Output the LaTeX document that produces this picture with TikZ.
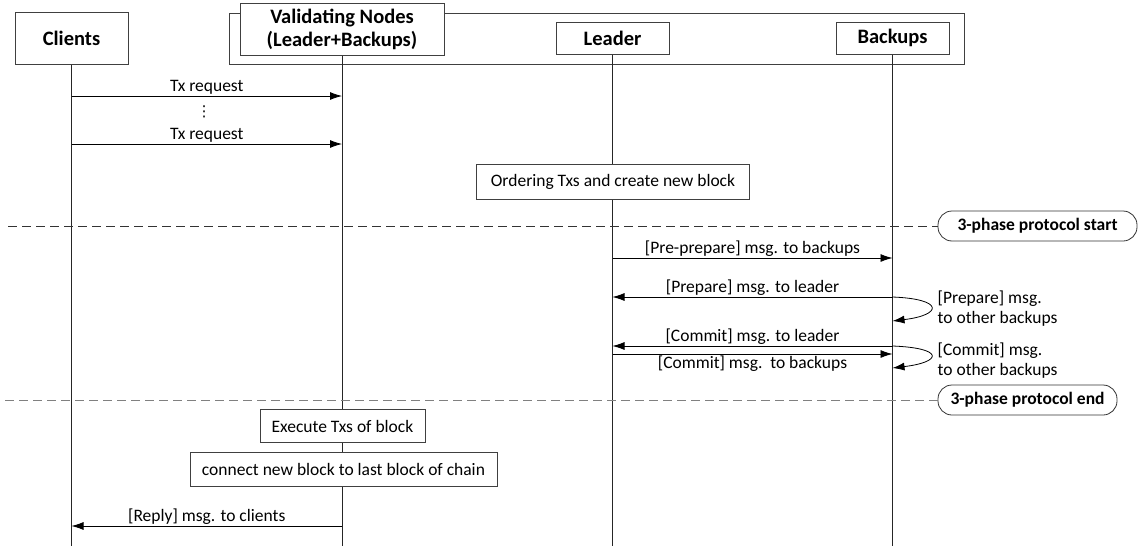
\documentclass[tikz,border=0pt]{standalone}
\usepackage{fontspec}
\setmainfont{Carlito}
\newfontfamily\symfont{DejaVu Sans}
\usetikzlibrary{arrows.meta,positioning,calc}

\newcommand{\msgfont}{\fontsize{17.5}{20}\selectfont}
\newcommand{\headfont}{\fontsize{20.5}{23}\selectfont\bfseries}

\begin{document}
\begin{tikzpicture}[x=1pt, y=-1pt]

\tikzset{
actor/.style={draw=black!75,line width=1pt,fill=white,font=\headfont,align=center,inner sep=0pt},
note/.style={draw=black!75,line width=0.8pt,fill=white,font=\msgfont,inner sep=0pt},
phasebox/.style={draw=black!80,line width=0.8pt,fill=white,rounded corners=14pt,font=\msgfont\bfseries,inner sep=0pt,minimum height=30pt},
life/.style={line width=0.8pt,draw=black!85},
msg/.style={-{Latex[length=12pt,width=8pt]},line width=0.8pt},
phase/.style={line width=1pt,dash pattern=on 9pt off 5pt},
lbl/.style={font=\msgfont,inner sep=1.5pt}
}

\useasboundingbox (0,0) rectangle (1145,546);

% Frame
\draw[draw=black!75,line width=1pt] (229,13) rectangle (964,64);

% Nodes
\node[actor,minimum width=113pt,minimum height=52pt] (clients) at (71.5,38) {Clients};
\node[actor,minimum width=204pt,minimum height=52pt] (vn) at (342,29) {Validating Nodes\\(Leader+Backups)};
\node[actor,minimum width=113pt,minimum height=32pt] (leader) at (612.5,38) {Leader};
\node[actor,minimum width=113pt,minimum height=32pt] (backups) at (892.5,38) {Backups};

% Rows
\coordinate (bottom) at (0,546);
\coordinate (rowtxa) at (0,96);
\coordinate (rowtxb) at (0,144);
\coordinate (rowpre) at (0,258);
\coordinate (rowprep) at (0,297);
\coordinate (rowprepend) at (0,321);
\coordinate (rowcomm) at (0,346);
\coordinate (rowcommb) at (0,354);
\coordinate (rowcommend) at (0,368);
\coordinate (rowreply) at (0,526);

% Lifelines
\draw[life] (clients.south) -- (clients.south |- bottom);
\draw[life] (vn.south) -- (vn.south |- bottom);
\draw[life] (leader.south) -- (leader.south |- bottom);
\draw[life] (backups.south) -- (backups.south |- bottom);

% Phase lines
\node[phasebox,minimum width=199pt] (pstart) at (1037.5,226) {3-phase protocol start};
\node[phasebox,minimum width=179pt] (pend) at (1027.5,400) {3-phase protocol end};
\coordinate (pstartleft) at (8,226);
\coordinate (pendleft) at (5,400);
\draw[phase,draw=black!80] (pstartleft) -- (pstart.west);
\draw[phase,draw=black!50] (pendleft) -- (pend.west);

% Notes
\node[note,minimum width=273pt,minimum height=35pt] (ordering) at (613,182) {Ordering Txs and create new block};
\node[note,minimum width=165pt,minimum height=33pt] (execute) at (342.5,426) {Execute Txs of block};
\node[note,minimum width=307pt,minimum height=34pt] (connect) at (343.5,469.5) {connect new block to last block of chain};

% Arrows
\draw[msg] (clients |- rowtxa) -- (vn |- rowtxa) node[lbl,midway,above] {Tx request};
\node[font=\fontsize{15}{15}\selectfont\symfont,inner sep=0pt] (dots) at (204,112) {⋮};
\draw[msg] (clients |- rowtxb) -- (vn |- rowtxb) node[lbl,midway,above] {Tx request};

\draw[msg] (leader |- rowpre) -- (backups |- rowpre) node[lbl,midway,above] {[Pre-prepare] msg. to backups};
\draw[msg] (backups |- rowprep) -- (leader |- rowprep) node[lbl,midway,above] {[Prepare] msg. to leader};
\draw[msg] (backups |- rowprep) .. controls +(52,2) and +(50,-6) .. (backups |- rowprepend);
\node[lbl,anchor=west,align=left] (preplbl) at (936,309) {[Prepare] msg.\\to other backups};

\draw[msg] (backups |- rowcomm) -- (leader |- rowcomm) node[lbl,midway,above] {[Commit] msg. to leader};
\draw[msg] (leader |- rowcommb) -- (backups |- rowcommb) node[lbl,midway,below] {[Commit] msg.\ \ to backups};
\draw[msg] (backups |- rowcomm) .. controls +(52,2) and +(50,-6) .. (backups |- rowcommend);
\node[lbl,anchor=west,align=left] (commlbl) at (936,361) {[Commit] msg.\\to other backups};

\draw[msg] (vn |- rowreply) -- (clients |- rowreply) node[lbl,midway,above] {[Reply] msg. to clients};

\end{tikzpicture}
\end{document}
